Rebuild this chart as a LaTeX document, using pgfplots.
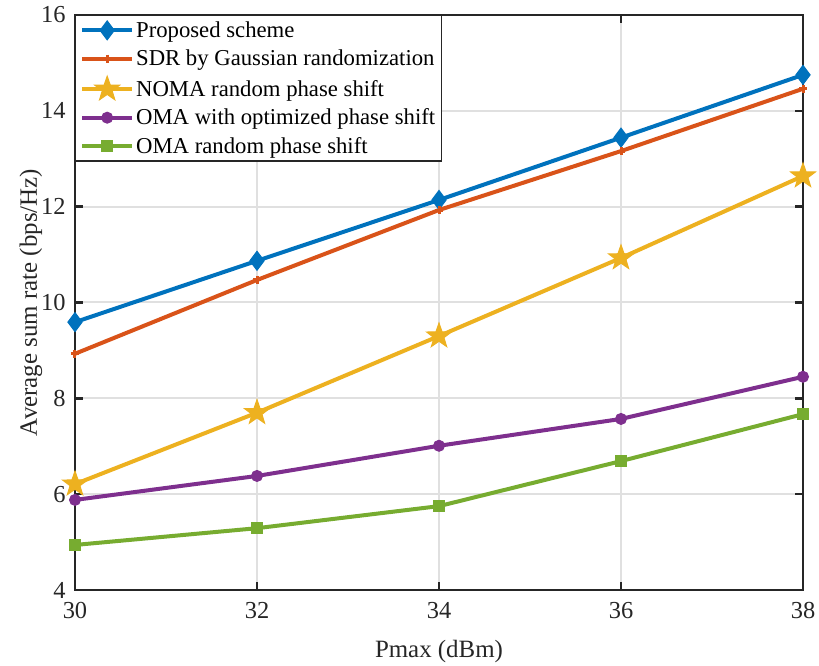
\documentclass[border=0pt]{standalone}
\usepackage{fontspec}
\setmainfont{Liberation Serif}
\usepackage{pgfplots}
\pgfplotsset{compat=1.18}
\definecolor{mblue}{RGB}{0,114,189}
\definecolor{morange}{RGB}{217,83,25}
\definecolor{myellow}{RGB}{237,177,32}
\definecolor{mpurple}{RGB}{126,47,142}
\definecolor{mgreen}{RGB}{119,172,48}
\definecolor{axgray}{RGB}{38,38,38}
% filled five-pointed star
\pgfdeclareplotmark{pentagram}{%
  \pgfpathmoveto{\pgfpointpolar{90}{\pgfplotmarksize}}%
  \pgfpathlineto{\pgfpointpolar{126}{0.40*\pgfplotmarksize}}%
  \pgfpathlineto{\pgfpointpolar{162}{\pgfplotmarksize}}%
  \pgfpathlineto{\pgfpointpolar{198}{0.40*\pgfplotmarksize}}%
  \pgfpathlineto{\pgfpointpolar{234}{\pgfplotmarksize}}%
  \pgfpathlineto{\pgfpointpolar{270}{0.40*\pgfplotmarksize}}%
  \pgfpathlineto{\pgfpointpolar{306}{\pgfplotmarksize}}%
  \pgfpathlineto{\pgfpointpolar{342}{0.40*\pgfplotmarksize}}%
  \pgfpathlineto{\pgfpointpolar{18}{\pgfplotmarksize}}%
  \pgfpathlineto{\pgfpointpolar{54}{0.40*\pgfplotmarksize}}%
  \pgfpathclose
  \pgfusepathqfillstroke}
\begin{document}
\begin{tikzpicture}
\begin{axis}[
  name=main,
  scale only axis,
  width=728bp, height=575bp,
  xmin=30, xmax=38, ymin=4, ymax=16,
  xtick={30,32,...,38}, ytick={4,6,...,16},
  tick align=inside,
  major tick length=8bp,
  grid=major,
  grid style={line width=2bp, black!12},
  axis line style={line width=2.5bp, axgray},
  every tick/.style={line width=2.5bp, axgray},
  tick label style={font=\fontsize{24.5}{26}\selectfont, text=axgray},
  xticklabel style={yshift=-9bp},
  yticklabel style={xshift=-6bp},
  /pgf/number format/assume math mode=true,
  xlabel={Pmax (dBm)},
  ylabel={Average sum rate (bps/Hz)},
  label style={font=\fontsize{25}{28}\selectfont, text=axgray},
  xlabel style={yshift=-14bp},
  ylabel style={yshift=-8bp},
  legend style={at={(0,1)}, anchor=north west, font=\fontsize{22.8}{24}\selectfont,
    draw=axgray, line width=1.5bp, inner xsep=4.5bp, inner ysep=4bp, row sep=7bp,
    cells={anchor=west}},
  legend cell align=left,
  legend image code/.code={%
    \draw[mark repeat=2,mark phase=2] plot coordinates {(0cm,0cm) (0.88cm,0cm) (1.76cm,0cm)};},
  every axis plot/.append style={line width=4bp},
]
\addplot[color=mblue, mark=diamond*, mark size=9.5bp, mark options={solid, line width=1bp}] coordinates {
  (30,9.59) (32,10.87) (34,12.14) (36,13.44) (38,14.75)};
\addlegendentry{Proposed scheme}
\addplot[color=morange, mark=+, mark size=4bp, mark options={line width=3bp}] coordinates {
  (30,8.93) (32,10.47) (34,11.93) (36,13.16) (38,14.46)};
\addlegendentry{SDR by Gaussian randomization}
\addplot[color=myellow, mark=pentagram, mark size=13bp, mark options={line width=1bp}] coordinates {
  (30,6.21) (32,7.70) (34,9.30) (36,10.93) (38,12.64)};
\addlegendentry{NOMA random phase shift}
\addplot[color=mpurple, mark=*, mark size=5.5bp, mark options={line width=1bp}] coordinates {
  (30,5.88) (32,6.38) (34,7.01) (36,7.57) (38,8.45)};
\addlegendentry{OMA with optimized phase shift}
\addplot[color=mgreen, mark=square*, mark size=5.5bp, mark options={line width=1bp}] coordinates {
  (30,4.94) (32,5.29) (34,5.75) (36,6.69) (38,7.67)};
\addlegendentry{OMA random phase shift}
\end{axis}
\pgfresetboundingbox
\path ([shift={(-75bp,-76bp)}]main.south west) rectangle ([shift={(16bp,15bp)}]main.north east);
\end{tikzpicture}
\end{document}
